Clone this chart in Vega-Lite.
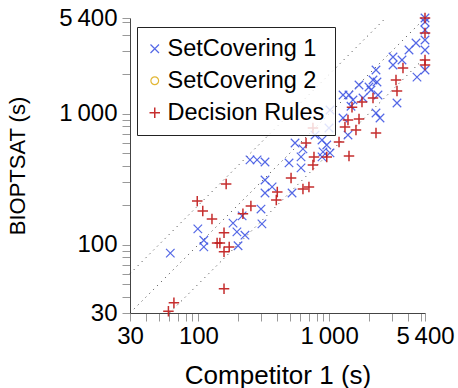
{
  "$schema": "https://vega.github.io/schema/vega-lite/v6.json",
  "width": 295,
  "height": 295,
  "autosize": "none",
  "padding": {"left": 130, "top": 18, "right": 33, "bottom": 75},
  "background": "white",
  "config": {
    "font": "Liberation Sans",
    "view": {"stroke": null}
  },
  "datasets": {
    "diag": [
      {"line": "2x", "x": 30, "y": 60}, {"line": "2x", "x": 2700, "y": 5400},
      {"line": "1x", "x": 30, "y": 30}, {"line": "1x", "x": 5400, "y": 5400},
      {"line": "half", "x": 60, "y": 30}, {"line": "half", "x": 5400, "y": 2700}
    ],
    "pts": [
      {"series": "SetCovering 1", "x": 61, "y": 86},
      {"series": "SetCovering 1", "x": 99, "y": 132},
      {"series": "SetCovering 1", "x": 110, "y": 108},
      {"series": "SetCovering 1", "x": 110, "y": 96},
      {"series": "SetCovering 1", "x": 201, "y": 98},
      {"series": "SetCovering 1", "x": 197, "y": 125},
      {"series": "SetCovering 1", "x": 227, "y": 118},
      {"series": "SetCovering 1", "x": 184, "y": 146},
      {"series": "SetCovering 1", "x": 216, "y": 166},
      {"series": "SetCovering 1", "x": 301, "y": 187},
      {"series": "SetCovering 1", "x": 306, "y": 144},
      {"series": "SetCovering 1", "x": 323, "y": 248},
      {"series": "SetCovering 1", "x": 323, "y": 312},
      {"series": "SetCovering 1", "x": 366, "y": 276},
      {"series": "SetCovering 1", "x": 248, "y": 444},
      {"series": "SetCovering 1", "x": 281, "y": 444},
      {"series": "SetCovering 1", "x": 323, "y": 428},
      {"series": "SetCovering 1", "x": 520, "y": 248},
      {"series": "SetCovering 1", "x": 493, "y": 421},
      {"series": "SetCovering 1", "x": 609, "y": 386},
      {"series": "SetCovering 1", "x": 609, "y": 468},
      {"series": "SetCovering 1", "x": 548, "y": 598},
      {"series": "SetCovering 1", "x": 630, "y": 539},
      {"series": "SetCovering 1", "x": 779, "y": 688},
      {"series": "SetCovering 1", "x": 881, "y": 630},
      {"series": "SetCovering 1", "x": 897, "y": 511},
      {"series": "SetCovering 1", "x": 958, "y": 577},
      {"series": "SetCovering 1", "x": 1014, "y": 502},
      {"series": "SetCovering 1", "x": 1014, "y": 1069},
      {"series": "SetCovering 1", "x": 996, "y": 779},
      {"series": "SetCovering 1", "x": 881, "y": 468},
      {"series": "SetCovering 1", "x": 1276, "y": 929},
      {"series": "SetCovering 1", "x": 1276, "y": 1392},
      {"series": "SetCovering 1", "x": 1417, "y": 1392},
      {"series": "SetCovering 1", "x": 1520, "y": 1276},
      {"series": "SetCovering 1", "x": 1690, "y": 1660},
      {"series": "SetCovering 1", "x": 1392, "y": 688},
      {"series": "SetCovering 1", "x": 2015, "y": 1602},
      {"series": "SetCovering 1", "x": 2162, "y": 1813},
      {"series": "SetCovering 1", "x": 2319, "y": 1751},
      {"series": "SetCovering 1", "x": 2087, "y": 1520},
      {"series": "SetCovering 1", "x": 2279, "y": 2162},
      {"series": "SetCovering 1", "x": 2360, "y": 1392},
      {"series": "SetCovering 1", "x": 2279, "y": 1014},
      {"series": "SetCovering 1", "x": 2446, "y": 929},
      {"series": "SetCovering 1", "x": 1813, "y": 1320},
      {"series": "SetCovering 1", "x": 1468, "y": 1142},
      {"series": "SetCovering 1", "x": 3075, "y": 2718},
      {"series": "SetCovering 1", "x": 3075, "y": 2360},
      {"series": "SetCovering 1", "x": 3602, "y": 2579},
      {"series": "SetCovering 1", "x": 3298, "y": 1210},
      {"series": "SetCovering 1", "x": 4075, "y": 3075},
      {"series": "SetCovering 1", "x": 4610, "y": 3478},
      {"series": "SetCovering 1", "x": 4690, "y": 1906},
      {"series": "SetCovering 1", "x": 5400, "y": 5400},
      {"series": "SetCovering 1", "x": 5400, "y": 5034},
      {"series": "SetCovering 1", "x": 5400, "y": 4370},
      {"series": "SetCovering 1", "x": 5400, "y": 3665},
      {"series": "SetCovering 1", "x": 5400, "y": 3075},
      {"series": "SetCovering 1", "x": 5400, "y": 2162},
      {"series": "Decision Rules", "x": 59, "y": 31},
      {"series": "Decision Rules", "x": 65, "y": 36},
      {"series": "Decision Rules", "x": 157, "y": 46},
      {"series": "Decision Rules", "x": 98, "y": 215},
      {"series": "Decision Rules", "x": 108, "y": 181},
      {"series": "Decision Rules", "x": 127, "y": 157},
      {"series": "Decision Rules", "x": 163, "y": 291},
      {"series": "Decision Rules", "x": 139, "y": 103},
      {"series": "Decision Rules", "x": 146, "y": 103},
      {"series": "Decision Rules", "x": 157, "y": 123},
      {"series": "Decision Rules", "x": 157, "y": 88},
      {"series": "Decision Rules", "x": 172, "y": 96},
      {"series": "Decision Rules", "x": 219, "y": 172},
      {"series": "Decision Rules", "x": 252, "y": 197},
      {"series": "Decision Rules", "x": 401, "y": 252},
      {"series": "Decision Rules", "x": 394, "y": 219},
      {"series": "Decision Rules", "x": 511, "y": 323},
      {"series": "Decision Rules", "x": 630, "y": 266},
      {"series": "Decision Rules", "x": 700, "y": 276},
      {"series": "Decision Rules", "x": 751, "y": 406},
      {"series": "Decision Rules", "x": 765, "y": 468},
      {"series": "Decision Rules", "x": 751, "y": 779},
      {"series": "Decision Rules", "x": 958, "y": 468},
      {"series": "Decision Rules", "x": 665, "y": 598},
      {"series": "Decision Rules", "x": 1189, "y": 609},
      {"series": "Decision Rules", "x": 1320, "y": 793},
      {"series": "Decision Rules", "x": 1392, "y": 897},
      {"series": "Decision Rules", "x": 1494, "y": 1122},
      {"series": "Decision Rules", "x": 1417, "y": 476},
      {"series": "Decision Rules", "x": 1602, "y": 751},
      {"series": "Decision Rules", "x": 1690, "y": 912},
      {"series": "Decision Rules", "x": 1781, "y": 1232},
      {"series": "Decision Rules", "x": 2162, "y": 1320},
      {"series": "Decision Rules", "x": 2279, "y": 713},
      {"series": "Decision Rules", "x": 3241, "y": 1813},
      {"series": "Decision Rules", "x": 3298, "y": 1494},
      {"series": "Decision Rules", "x": 3665, "y": 2240},
      {"series": "Decision Rules", "x": 5400, "y": 5400},
      {"series": "Decision Rules", "x": 5400, "y": 4147},
      {"series": "Decision Rules", "x": 5400, "y": 2579},
      {"series": "Decision Rules", "x": 5400, "y": 2360}
    ]
  },
  "layer": [
    {
      "data": {"name": "diag"},
      "mark": {"type": "line", "color": "#333333", "strokeWidth": 1, "strokeDash": [1, 4.5]},
      "encoding": {
        "x": {"field": "x", "type": "quantitative"},
        "y": {"field": "y", "type": "quantitative"},
        "detail": {"field": "line"}
      }
    },
    {
      "data": {"name": "pts"},
      "mark": {"type": "point", "filled": false, "opacity": 0.9},
      "encoding": {
        "x": {
          "field": "x", "type": "quantitative",
          "scale": {"type": "log", "domain": [30, 5400], "nice": false, "zero": false},
          "axis": {
            "title": "Competitor 1 (s)",
            "titleFontSize": 26, "titleFontWeight": "normal", "titleColor": "black", "titlePadding": 14,
            "values": [30, 40, 50, 60, 70, 80, 90, 100, 200, 300, 400, 500, 600, 700, 800, 900, 1000, 2000, 3000, 4000, 5000, 5400],
            "labelExpr": "datum.value==30?'30':datum.value==100?'100':datum.value==1000?'1\u2009000':datum.value==5400?'5\u2009400':''",
            "labelFontSize": 24, "labelColor": "black", "labelPadding": 3, "labelOverlap": false, "labelFlush": false, "labelBound": false,
            "tickSize": 8, "tickColor": "#999999", "tickWidth": 1,
            "domainColor": "#444444", "domainWidth": 1, "grid": false,
            "encode": {"ticks": {"update": {"y2": {"signal": "(datum.value==30||datum.value==100||datum.value==1000||datum.value==5400) ? -10 : -5"}}}}
          }
        },
        "y": {
          "field": "y", "type": "quantitative",
          "scale": {"type": "log", "domain": [30, 5400], "nice": false, "zero": false},
          "axis": {
            "title": "BIOPTSAT (s)",
            "titleFontSize": 22, "titleFontWeight": "normal", "titleColor": "black", "titlePadding": 29,
            "values": [30, 40, 50, 60, 70, 80, 90, 100, 200, 300, 400, 500, 600, 700, 800, 900, 1000, 2000, 3000, 4000, 5000, 5400],
            "labelExpr": "datum.value==30?'30':datum.value==100?'100':datum.value==1000?'1\u2009000':datum.value==5400?'5\u2009400':''",
            "labelFontSize": 24, "labelColor": "black", "labelPadding": 5, "labelOverlap": false, "labelFlush": false, "labelBound": false,
            "tickSize": 8, "tickColor": "#999999", "tickWidth": 1,
            "domainColor": "#444444", "domainWidth": 1, "grid": false,
            "encode": {"ticks": {"update": {"x2": {"signal": "(datum.value==30||datum.value==100||datum.value==1000||datum.value==5400) ? 10 : 5"}}}}
          }
        },
        "color": {
          "field": "series", "type": "nominal",
          "scale": {"domain": ["SetCovering 1", "SetCovering 2", "Decision Rules"], "range": ["#4258e4", "#e0b020", "#c01818"]},
          "legend": {
            "title": null,
            "orient": "none", "legendX": 7, "legendY": 9,
            "labelFontSize": 23.5, "labelColor": "black", "labelOffset": 1, "symbolOffset": -4,
            "symbolSize": 55, "symbolStrokeWidth": 1.3, "symbolFillColor": "transparent",
            "rowPadding": 7, "padding": 10,
            "fillColor": "rgba(255,255,255,0.82)", "strokeColor": "#222222", "cornerRadius": 0
          }
        },
        "shape": {
          "field": "series", "type": "nominal",
          "scale": {"domain": ["SetCovering 1", "SetCovering 2", "Decision Rules"], "range": ["M-1,-1L1,1M-1,1L1,-1", "circle", "M-1,0L1,0M0,-1L0,1"]},
          "legend": null
        },
        "size": {
          "field": "series", "type": "nominal",
          "scale": {"type": "ordinal", "domain": ["SetCovering 1", "SetCovering 2", "Decision Rules"], "range": [72, 60, 110]},
          "legend": null
        },
        "strokeWidth": {
          "field": "series", "type": "nominal",
          "scale": {"type": "ordinal", "domain": ["SetCovering 1", "SetCovering 2", "Decision Rules"], "range": [1.2, 1.2, 1.5]},
          "legend": null
        }
      }
    }
  ]
}
